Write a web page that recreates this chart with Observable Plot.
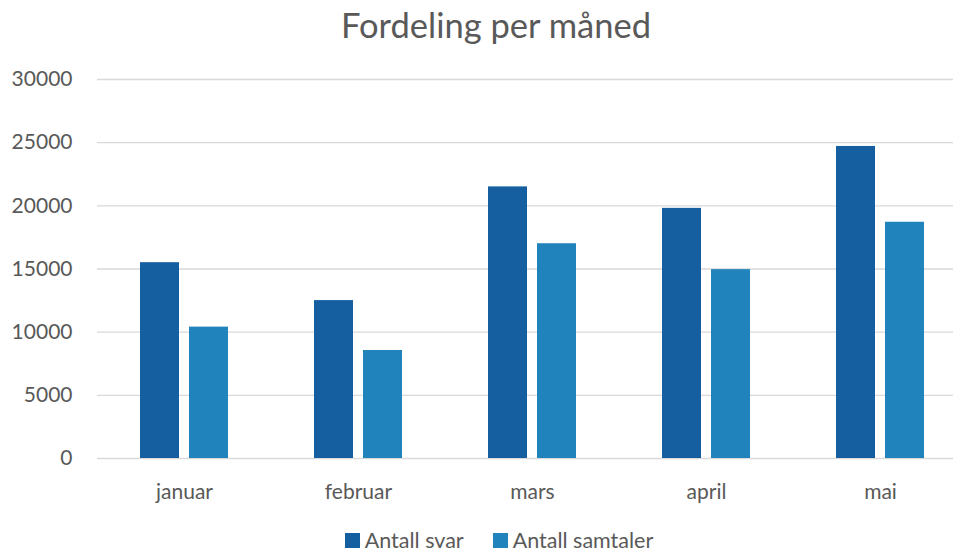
<!DOCTYPE html>
<html><head><meta charset="utf-8">
<script src="https://cdn.jsdelivr.net/npm/d3@7"></script>
<script src="https://cdn.jsdelivr.net/npm/@observablehq/plot@0.6"></script>
<style>
body{margin:0;background:#fff;overflow:hidden;font-family:Lato, sans-serif;}
#wrap{position:relative;width:953px;height:552px;overflow:hidden;background:#fff;}
#title{position:absolute;top:0;left:0;width:992px;text-align:center;font-size:34.5px;color:#595959;line-height:50px;white-space:nowrap;}
#chart{position:absolute;top:50px;left:0;}
#legend{position:absolute;top:528px;left:0;width:998px;display:flex;justify-content:center;gap:29px;font-size:21.5px;color:#595959;line-height:24px;white-space:nowrap;}
#legend .item{display:flex;align-items:center;gap:5px;}
#legend .sw{width:15px;height:15px;display:inline-block;}
</style>
</head><body>
<div id="wrap">
  <div id="title">Fordeling per måned</div>
  <div id="chart"></div>
  <div id="legend"></div>
</div>
<script>
const months = ["januar", "februar", "mars", "april", "mai"];
const seriesNames = ["Antall svar", "Antall samtaler"];
const svar = [15500, 12500, 21500, 19800, 24700];
const samtaler = [10400, 8550, 17000, 14950, 18700];
const yTicks = [0, 5000, 10000, 15000, 20000, 25000, 30000];
const colors = ["#155FA0", "#2083BB"];

const data = [];
months.forEach((m, i) => {
  data.push({month: m, series: seriesNames[0], value: svar[i]});
  data.push({month: m, series: seriesNames[1], value: samtaler[i]});
});

const chart = Plot.plot({
  width: 953,
  height: 460,
  marginLeft: 95,
  marginRight: -15,
  marginTop: 29,
  marginBottom: 52,
  style: {fontFamily: "Lato, sans-serif", fontSize: "21px", color: "#595959", background: "white"},
  fx: {domain: months, padding: 0, label: null, axis: null},
  x: {domain: seriesNames, paddingInner: 0.21, paddingOuter: 0.87, axis: null},
  y: {domain: [0, 30000], label: null},
  color: {domain: seriesNames, range: colors},
  marks: [
    Plot.gridY(yTicks, {stroke: "#d9d9d9", strokeOpacity: 1, strokeWidth: 1.4}),
    Plot.axisY(yTicks, {tickSize: 0, tickPadding: 25, label: null, tickFormat: d => String(d), fill: "#595959"}),
    Plot.axisFx({anchor: "bottom", tickSize: 0, tickPadding: 26, label: null, fill: "#595959"}),
    Plot.barY(data, {fx: "month", x: "series", y: "value", fill: "series"})
  ]
});
document.getElementById("chart").appendChild(chart);

const legend = document.getElementById("legend");
seriesNames.forEach((name, i) => {
  const item = document.createElement("div");
  item.className = "item";
  const sw = document.createElement("span");
  sw.className = "sw";
  sw.style.background = colors[i];
  const label = document.createElement("span");
  label.textContent = name;
  item.appendChild(sw);
  item.appendChild(label);
  legend.appendChild(item);
});
</script>
</body></html>
